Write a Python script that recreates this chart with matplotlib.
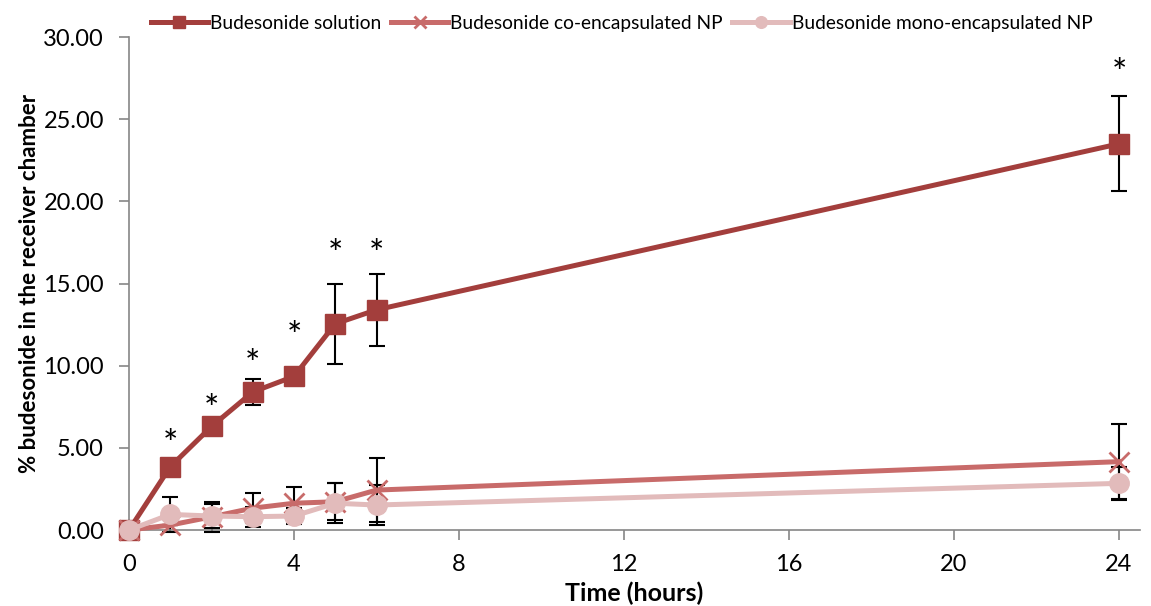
import matplotlib.pyplot as plt

plt.rcParams['font.family'] = ['Lato', 'DejaVu Sans']

time_h = [0, 1, 2, 3, 4, 5, 6, 24]

solution = [0.0, 3.85, 6.3, 8.4, 9.35, 12.55, 13.4, 23.5]
solution_err = [0.0, 0.3, 0.45, 0.8, 0.3, 2.43, 2.2, 2.9]

co_np = [0.0, 0.3, 0.8, 1.33, 1.63, 1.72, 2.43, 4.16]
co_np_err = [0.0, 0.0, 0.9, 0.92, 1.0, 1.13, 1.95, 2.27]

mono_np = [0.0, 0.95, 0.85, 0.81, 0.85, 1.63, 1.52, 2.84]
mono_np_err = [0.0, 1.08, 0.75, 0.6, 0.5, 1.21, 1.22, 1.01]

# significance marks (*) above the solution points
star_y = [None, 5.15, 7.25, 10.0, 11.7, 16.7, 16.7, 27.75]

c_sol = '#A33E3C'
c_co = '#C86B6A'
c_mono = '#E2BBBB'

fig = plt.figure(figsize=(11.51, 6.06), dpi=100)
ax = fig.add_axes([0.1121, 0.1254, 0.878, 0.8135])

err_kw = dict(fmt='none', ecolor='black', elinewidth=1.5, capsize=6, capthick=1.5, zorder=2, clip_on=False)
ax.errorbar(time_h, solution, yerr=solution_err, **err_kw)
ax.errorbar(time_h, co_np, yerr=co_np_err, **err_kw)
ax.errorbar(time_h, mono_np, yerr=mono_np_err, **err_kw)

ax.plot(time_h, solution, color=c_sol, lw=3.6, marker='s', ms=14, mec=c_sol,
        label='Budesonide solution', zorder=3, clip_on=False)
ax.plot(time_h, co_np, color=c_co, lw=3.6, marker='x', ms=14, mew=2,
        label='Budesonide co-encapsulated NP', zorder=4, clip_on=False)
ax.plot(time_h, mono_np, color=c_mono, lw=3.6, marker='o', ms=14, mec=c_mono,
        label='Budesonide mono-encapsulated NP', zorder=5, clip_on=False)

for x, y in zip(time_h, star_y):
    if y is not None:
        ax.text(x, y, '*', ha='center', va='center', fontsize=26, color='black')

ax.set_xlim(0, 24.5)
ax.set_ylim(0, 30)
ax.set_xticks([0, 4, 8, 12, 16, 20, 24])
ax.set_yticks([0, 5, 10, 15, 20, 25, 30])
ax.set_yticklabels([f'{v:.2f}' for v in [0, 5, 10, 15, 20, 25, 30]])

for s in ['top', 'right']:
    ax.spines[s].set_visible(False)
for s in ['left', 'bottom']:
    ax.spines[s].set_color('#868686')
    ax.spines[s].set_linewidth(1.2)
ax.tick_params(axis='both', colors='#868686', labelcolor='black', labelsize=17, length=7, width=1.2)
ax.tick_params(axis='y', pad=11)
ax.tick_params(axis='x', pad=10)

ax.set_xlabel('Time (hours)', fontsize=18, fontweight='bold', labelpad=5)
ax.set_ylabel('% budesonide in the receiver chamber', fontsize=16, fontweight='bold', labelpad=2)

fig.legend(loc='center', bbox_to_anchor=(0.54, 0.962), ncol=3, frameon=False,
           fontsize=13.8, handlelength=3.0, handletextpad=0.1, columnspacing=0.5,
           markerscale=0.6)

fig.savefig('out.png', dpi=100)
